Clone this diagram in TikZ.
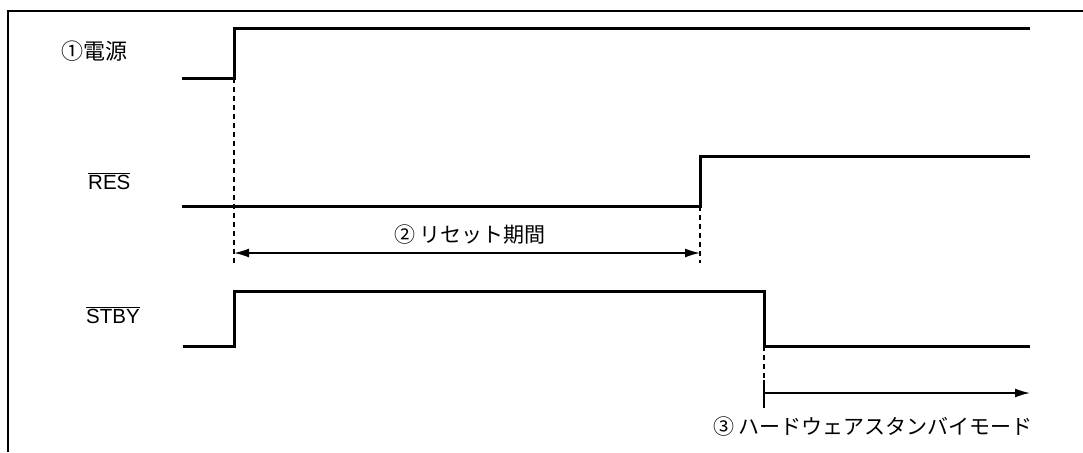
\documentclass[tikz,border=0pt]{standalone}
\usepackage{fontspec}
\setmainfont{Liberation Sans}
\newfontfamily\jp{Noto Sans CJK JP}
\usetikzlibrary{arrows.meta}
\begin{document}
\begin{tikzpicture}[x=1pt,y=-1pt,
  sig/.style={line width=3pt, line join=miter},
  frame/.style={line width=2pt},
  guide/.style={line width=1.3pt, dash pattern=on 5pt off 4pt},
  tick/.style={line width=1.5pt},
  dim/.style={line width=1.6pt},
  lbl/.style={font=\fontsize{20.5}{24}\selectfont, inner sep=0pt},
  jlbl/.style={font=\jp\fontsize{21}{24}\selectfont, inner sep=0pt}]
\useasboundingbox (0,0) rectangle (1083,452);
% frame (top and left)
\coordinate (fl) at (8,452);
\coordinate (ftl) at (8,11);
\coordinate (ftr) at (1083,11);
\draw[frame] (fl) -- (ftl) -- (ftr);
% labels
\node[jlbl, font=\jp\fontsize{22}{24}\selectfont, anchor=west] (lpow) at (61,51) {①電源};
\node[lbl, anchor=west] (lres) at (88,181) {$\overline{\mbox{RES}}$};
\node[lbl, anchor=west] (lstby) at (86,315) {$\overline{\mbox{STBY}}$};
% power
\coordinate (p0) at (182,78);
\coordinate (p1) at (234,78);
\coordinate (p2) at (234,29);
\coordinate (p3) at (1030,29);
\draw[sig] (p0) -- (p1) -- (p2) -- (p3);
% RES
\coordinate (r0) at (182,206);
\coordinate (r1) at (700,206);
\coordinate (r2) at (700,156);
\coordinate (r3) at (1030,156);
\draw[sig] (r0) -- (r1) -- (r2) -- (r3);
% STBY
\coordinate (s0) at (183,346);
\coordinate (s1) at (234,346);
\coordinate (s2) at (234,291);
\coordinate (s3) at (764,291);
\coordinate (s4) at (764,346);
\coordinate (s5) at (1030,346);
\draw[sig] (s0) -- (s1) -- (s2) -- (s3) -- (s4) -- (s5);
% guides
\coordinate (g1) at (234,264);
\coordinate (g2) at (700,263);
\coordinate (g3) at (764,380);
\draw[guide] (p1) -- (g1);
\draw[guide] (r1) -- (g2);
\draw[guide] (s4) -- (g3);
% reset period
\coordinate (d1) at (234,253);
\coordinate (d2) at (700,253);
\draw[dim, {Latex[length=15pt,width=9pt]}-{Latex[length=15pt,width=9pt]}] (d1) -- (d2);
\node[jlbl] (lrp) at (470,235) {② リセット期間};
% hardware standby
\coordinate (t0) at (764,380);
\coordinate (t1) at (764,408);
\draw[tick] (t0) -- (t1);
\coordinate (a0) at (764,393);
\coordinate (a1) at (1030,393);
\draw[dim, -{Latex[length=15pt,width=9pt]}] (a0) -- (a1);
\node[jlbl, anchor=east] (lhs) at (1033,427) {③ ハードウェアスタンバイモード};
\end{tikzpicture}
\end{document}
